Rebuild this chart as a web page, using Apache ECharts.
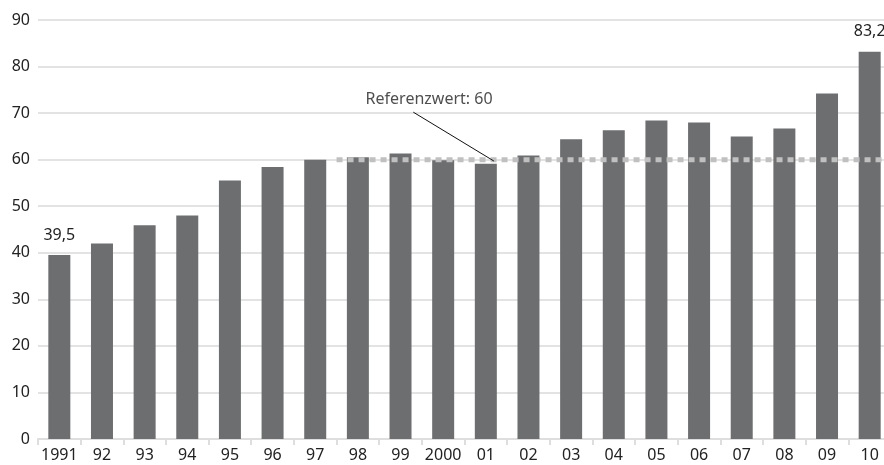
<!DOCTYPE html>
<html>
<head>
<meta charset="utf-8">
<script src="https://cdn.jsdelivr.net/npm/echarts@6/dist/echarts.min.js"></script>
<style>
html,body{margin:0;padding:0;background:#fff;}
#chart{width:884px;height:465px;}
</style>
</head>
<body>
<div id="chart"></div>
<script>
// Data
const categories = ['1991','92','93','94','95','96','97','98','99','2000','01','02','03','04','05','06','07','08','09','10'];
const values = [39.5, 42.0, 45.9, 48.0, 55.5, 58.4, 60.0, 60.5, 61.3, 59.9, 59.1, 60.9, 64.4, 66.3, 68.4, 68.0, 65.0, 66.7, 74.2, 83.2];
const labelledIndices = [0, 19];
const referenceValue = 60;
const referenceStart = 7;   // boundary between 97 and 98 (in category units)
const referenceEnd = 20;
const referenceText = 'Referenzwert: 60';
const leaderLine = [[8.8, 70.2], [10.69, 59.7]];
const annotationPoint = [9.17, 72.9];
const yTicks = {min: 0, max: 90, interval: 10};

const FONT = 'Noto Sans';
const chart = echarts.init(document.getElementById('chart'), null, {renderer: 'canvas'});

const barData = values.map((v, i) => labelledIndices.includes(i)
  ? {value: v, label: {show: true, position: 'top', distance: 12,
      formatter: p => String(p.value).replace('.', ','),
      fontFamily: FONT, fontSize: 16, color: '#222'}}
  : v);

const option = {
  animation: false,
  backgroundColor: '#fff',
  grid: {left: 38, width: 853, top: 20, bottom: 26, containLabel: false, outerBoundsMode: 'none'},
  xAxis: [{
    type: 'category', data: categories,
    axisLine: {lineStyle: {color: '#dedede', width: 2}},
    axisTick: {show: true, length: 6, interval: 0, lineStyle: {color: '#dedede', width: 2}},
    axisLabel: {fontFamily: FONT, fontSize: 16, color: '#222', margin: 8, interval: 0, hideOverlap: false}
  }, {
    type: 'value', min: 0, max: 20, show: false
  }],
  yAxis: {
    type: 'value', min: yTicks.min, max: yTicks.max, interval: yTicks.interval,
    axisLine: {show: false}, axisTick: {show: false},
    axisLabel: {fontFamily: FONT, fontSize: 16, color: '#222', margin: 8},
    splitLine: {lineStyle: {color: '#e3e3e3', width: 2}}
  },
  series: [{
    type: 'bar', data: barData, barWidth: 22, xAxisIndex: 0,
    itemStyle: {color: '#6d6e70'}, z: 2
  }, {
    type: 'line', xAxisIndex: 1, data: [[referenceStart, referenceValue], [referenceEnd, referenceValue]],
    symbol: 'none', lineStyle: {color: '#c0c0c0', width: 5, type: [6, 5]}, z: 3
  }, {
    type: 'line', xAxisIndex: 1, data: leaderLine,
    symbol: 'none', lineStyle: {color: '#111', width: 1}, z: 4
  }, {
    type: 'scatter', xAxisIndex: 1, data: [annotationPoint], symbolSize: 0,
    label: {show: true, position: 'inside', formatter: referenceText,
      fontFamily: FONT, fontSize: 16, color: '#222'}, z: 5
  }]
};
chart.setOption(option);
</script>
</body>
</html>
